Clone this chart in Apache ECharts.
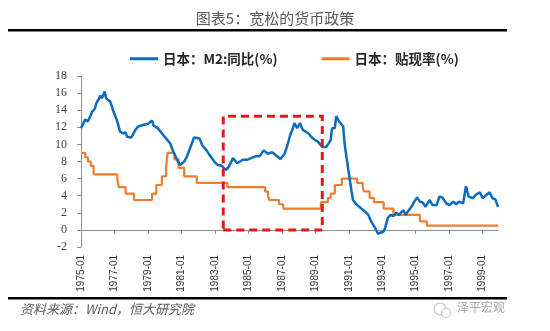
<!DOCTYPE html>
<html><head><meta charset="utf-8">
<script src="https://cdn.jsdelivr.net/npm/echarts@6/dist/echarts.min.js"></script>
<style>html,body{margin:0;padding:0;background:#fff}#c{width:550px;height:331px}</style>
</head><body><div id="c"></div>
<script>
// ---- data ----
const m2Dates = ['1975-01','1975-04','1975-06','1975-09','1975-11','1975-12','1976-03','1976-04','1976-06','1976-07','1976-10','1976-12',
'1977-03','1977-05','1977-07','1977-09','1977-10','1978-01','1978-04','1978-06','1978-10','1979-01','1979-04','1979-05','1979-08','1979-12',
'1980-02','1980-05','1980-07','1980-10','1980-12','1981-03','1981-05','1981-08','1981-10','1982-02','1982-04','1982-07','1982-09','1983-01',
'1983-03','1983-06','1983-09','1983-11','1984-02','1984-05','1984-09','1984-12','1985-03','1985-06','1985-09','1985-12','1986-03','1986-06',
'1986-09','1986-12','1987-03','1987-05','1987-07','1987-09','1987-10','1987-12','1988-02','1988-04','1988-08','1988-10','1989-01','1989-03',
'1989-06','1989-09','1989-12','1990-01','1990-03','1990-04','1990-06','1990-09','1990-10','1990-12','1991-02','1991-03','1991-04','1991-07',
'1991-10','1992-01','1992-03','1992-05','1992-08','1992-10','1992-12','1993-02','1993-03','1993-05','1993-07','1993-09','1993-11','1994-01',
'1994-04','1994-06','1994-07','1994-10','1994-12','1995-02','1995-04','1995-06','1995-08','1995-11','1996-01','1996-04','1996-06','1996-08',
'1996-11','1997-01','1997-04','1997-06','1997-08','1997-11','1998-01','1998-03','1998-06','1998-08','1998-11','1999-01','1999-03','1999-06',
'1999-08','1999-10','1999-12'];
const m2Values = [11.9,12.9,12.7,13.8,14.2,14.8,15.7,15.4,16.2,15.4,15.0,14.0,
12.7,11.5,11.3,11.4,10.9,10.8,11.7,12.1,12.3,12.4,12.8,12.2,11.9,11.1,
10.7,10.1,9.2,8.2,7.6,8.0,8.6,9.9,10.8,10.7,9.9,9.3,8.8,7.9,
7.6,7.5,7.0,7.4,8.4,7.8,8.2,8.2,8.4,8.6,8.6,9.3,8.9,9.1,
8.7,8.3,8.9,9.9,11.1,11.9,12.5,11.9,12.5,11.7,11.3,10.9,10.5,10.3,
9.7,9.7,10.5,11.9,11.9,13.3,12.7,12.1,10.1,7.8,5.6,4.5,3.5,2.9,
2.5,2.1,1.75,1.0,0.2,-0.45,-0.3,-0.2,0.2,1.4,1.75,1.6,2.0,1.75,
2.3,1.75,2.1,2.7,3.3,3.8,3.3,3.2,2.7,3.5,2.9,2.9,3.9,3.8,
3.1,2.9,3.3,3.0,3.3,3.1,5.1,3.9,3.7,4.1,4.4,3.7,4.0,4.4,
3.7,3.6,2.7];
const rateDates = ['1975-01','1975-04','1975-06','1975-08','1975-10','1977-03','1977-04','1977-09','1978-03','1979-04','1979-07','1979-11',
'1980-02','1980-03','1980-08','1980-11','1981-03','1981-12','1983-10','1986-01','1986-03','1986-04','1986-11','1987-02','1989-05','1989-10',
'1989-12','1990-03','1990-08','1991-07','1991-11','1991-12','1992-04','1992-07','1993-02','1993-09','1995-04','1995-09','1999-12'];
const rateValues = [9.0,8.5,8.0,7.5,6.5,6.0,5.0,4.25,3.5,4.25,5.25,6.25,
7.25,9.0,8.25,7.25,6.25,5.5,5.0,4.5,4.0,3.5,3.0,2.5,3.25,3.75,
4.25,5.25,6.0,5.5,5.0,4.5,3.75,3.25,2.5,1.75,1.0,0.5,0.5];
const xTickLabels = ['1975-01','1977-01','1979-01','1981-01','1983-01','1985-01','1987-01','1989-01','1991-01','1993-01','1995-01','1997-01','1999-01'];
const xStart = '1975-01', xEnd = '1999-12';
const yMin = -2, yMax = 18, yStep = 2;
const boxCorners = [['1983-07', 0], ['1989-06', 13.3]];
const seriesNames = ['日本：M2:同比(%)', '日本：贴现率(%)'];

function toYear(s){ const p = s.split('-').map(Number); return p[0] + (p[1]-1)/12; }
const m2Data = m2Dates.map((d,i)=>[toYear(d), m2Values[i]]);
const rateData = rateDates.map((d,i)=>[toYear(d), rateValues[i]]);
const tickVals = xTickLabels.map(toYear);
const labelMap = {}; xTickLabels.forEach(l=>{ labelMap[toYear(l).toFixed(3)] = l; });

const axisGray = '#8c8c8c';
const chart = echarts.init(document.getElementById('c'), null, {renderer:'canvas'});
const xCommon = { type:'value', min: toYear(xStart), max: toYear(xEnd), splitLine:{show:false} };
chart.setOption({
  animation:false,
  backgroundColor:'#fff',
  grid:{ left:81, right:52, top:76, bottom:84, containLabel:false },
  legend:{
    left:125, top:47, itemWidth:28, itemHeight:3, itemGap:44, icon:'rect',
    textStyle:{ fontFamily:'Noto Sans CJK SC', fontSize:13.5, fontWeight:'bold', color:'#262626' },
    data: seriesNames
  },
  xAxis:[
    Object.assign({}, xCommon, {
      axisLine:{ onZero:true, lineStyle:{ color:axisGray, width:1 } },
      axisTick:{ show:true, length:4, customValues: tickVals, lineStyle:{ color:axisGray } },
      axisLabel:{ show:false }
    }),
    Object.assign({}, xCommon, {
      position:'bottom',
      axisLine:{ show:false, onZero:false },
      axisTick:{ show:false },
      axisLabel:{ show:true, rotate:90, margin:8, customValues: tickVals,
        fontFamily:'Liberation Sans', fontSize:10, color:'#333',
        formatter: v => labelMap[v.toFixed(3)] || '' }
    })
  ],
  yAxis:{
    type:'value', min:yMin, max:yMax, interval:yStep,
    splitLine:{show:false},
    axisLine:{ show:true, lineStyle:{ color:axisGray, width:1 } },
    axisTick:{ show:true, length:4, lineStyle:{ color:axisGray } },
    axisLabel:{ margin:14, fontFamily:'Liberation Serif', fontSize:12, color:'#404040' }
  },
  series:[
    { name:seriesNames[0], type:'line', xAxisIndex:0, data:m2Data, symbol:'none',
      lineStyle:{ color:'#0b6cbf', width:2.5 }, itemStyle:{ color:'#0b6cbf' }, z:3 },
    { name:seriesNames[1], type:'line', xAxisIndex:0, data:rateData, symbol:'none', step:'end',
      lineStyle:{ color:'#ed7d31', width:2.2 }, itemStyle:{ color:'#ed7d31' }, z:2 },
    { name:'box', type:'line', xAxisIndex:0, data:[], z:5, silent:true,
      markArea:{ silent:true, z:5,
        itemStyle:{ color:'rgba(0,0,0,0)', borderColor:'#e8161c', borderWidth:3, borderType:[8,5] },
        data:[[ { coord:[toYear(boxCorners[0][0]), boxCorners[0][1]] }, { coord:[toYear(boxCorners[1][0]), boxCorners[1][1]] } ]] } }
  ],
  graphic:[
    { type:'text', left:'center', top:11, style:{ text:'图表5：宽松的货币政策', fontFamily:'Noto Sans CJK SC', fontSize:15, fill:'#595959' } },
    { type:'rect', shape:{ x:8, y:29, width:499, height:2.5 }, style:{ fill:'#000' } },
    { type:'rect', shape:{ x:8, y:297, width:499, height:2.5 }, style:{ fill:'#000' } },
    { type:'text', left:20, top:303, style:{ text:'资料来源：Wind，恒大研究院', fontFamily:'Noto Sans CJK SC', fontSize:13, fontStyle:'italic', fill:'#595959' } },
    { type:'circle', shape:{ cx:440, cy:309, r:6 }, style:{ fill:'none', stroke:'#c8c8c8', lineWidth:1.2 } },
    { type:'circle', shape:{ cx:446, cy:313, r:4.5 }, style:{ fill:'#fff', stroke:'#c8c8c8', lineWidth:1.2 } },
    { type:'text', left:457, top:301, style:{ text:'泽平宏观', fontFamily:'Noto Sans CJK SC', fontSize:12, fill:'#a6a6a6' } }
  ]
});
</script>
</body></html>
